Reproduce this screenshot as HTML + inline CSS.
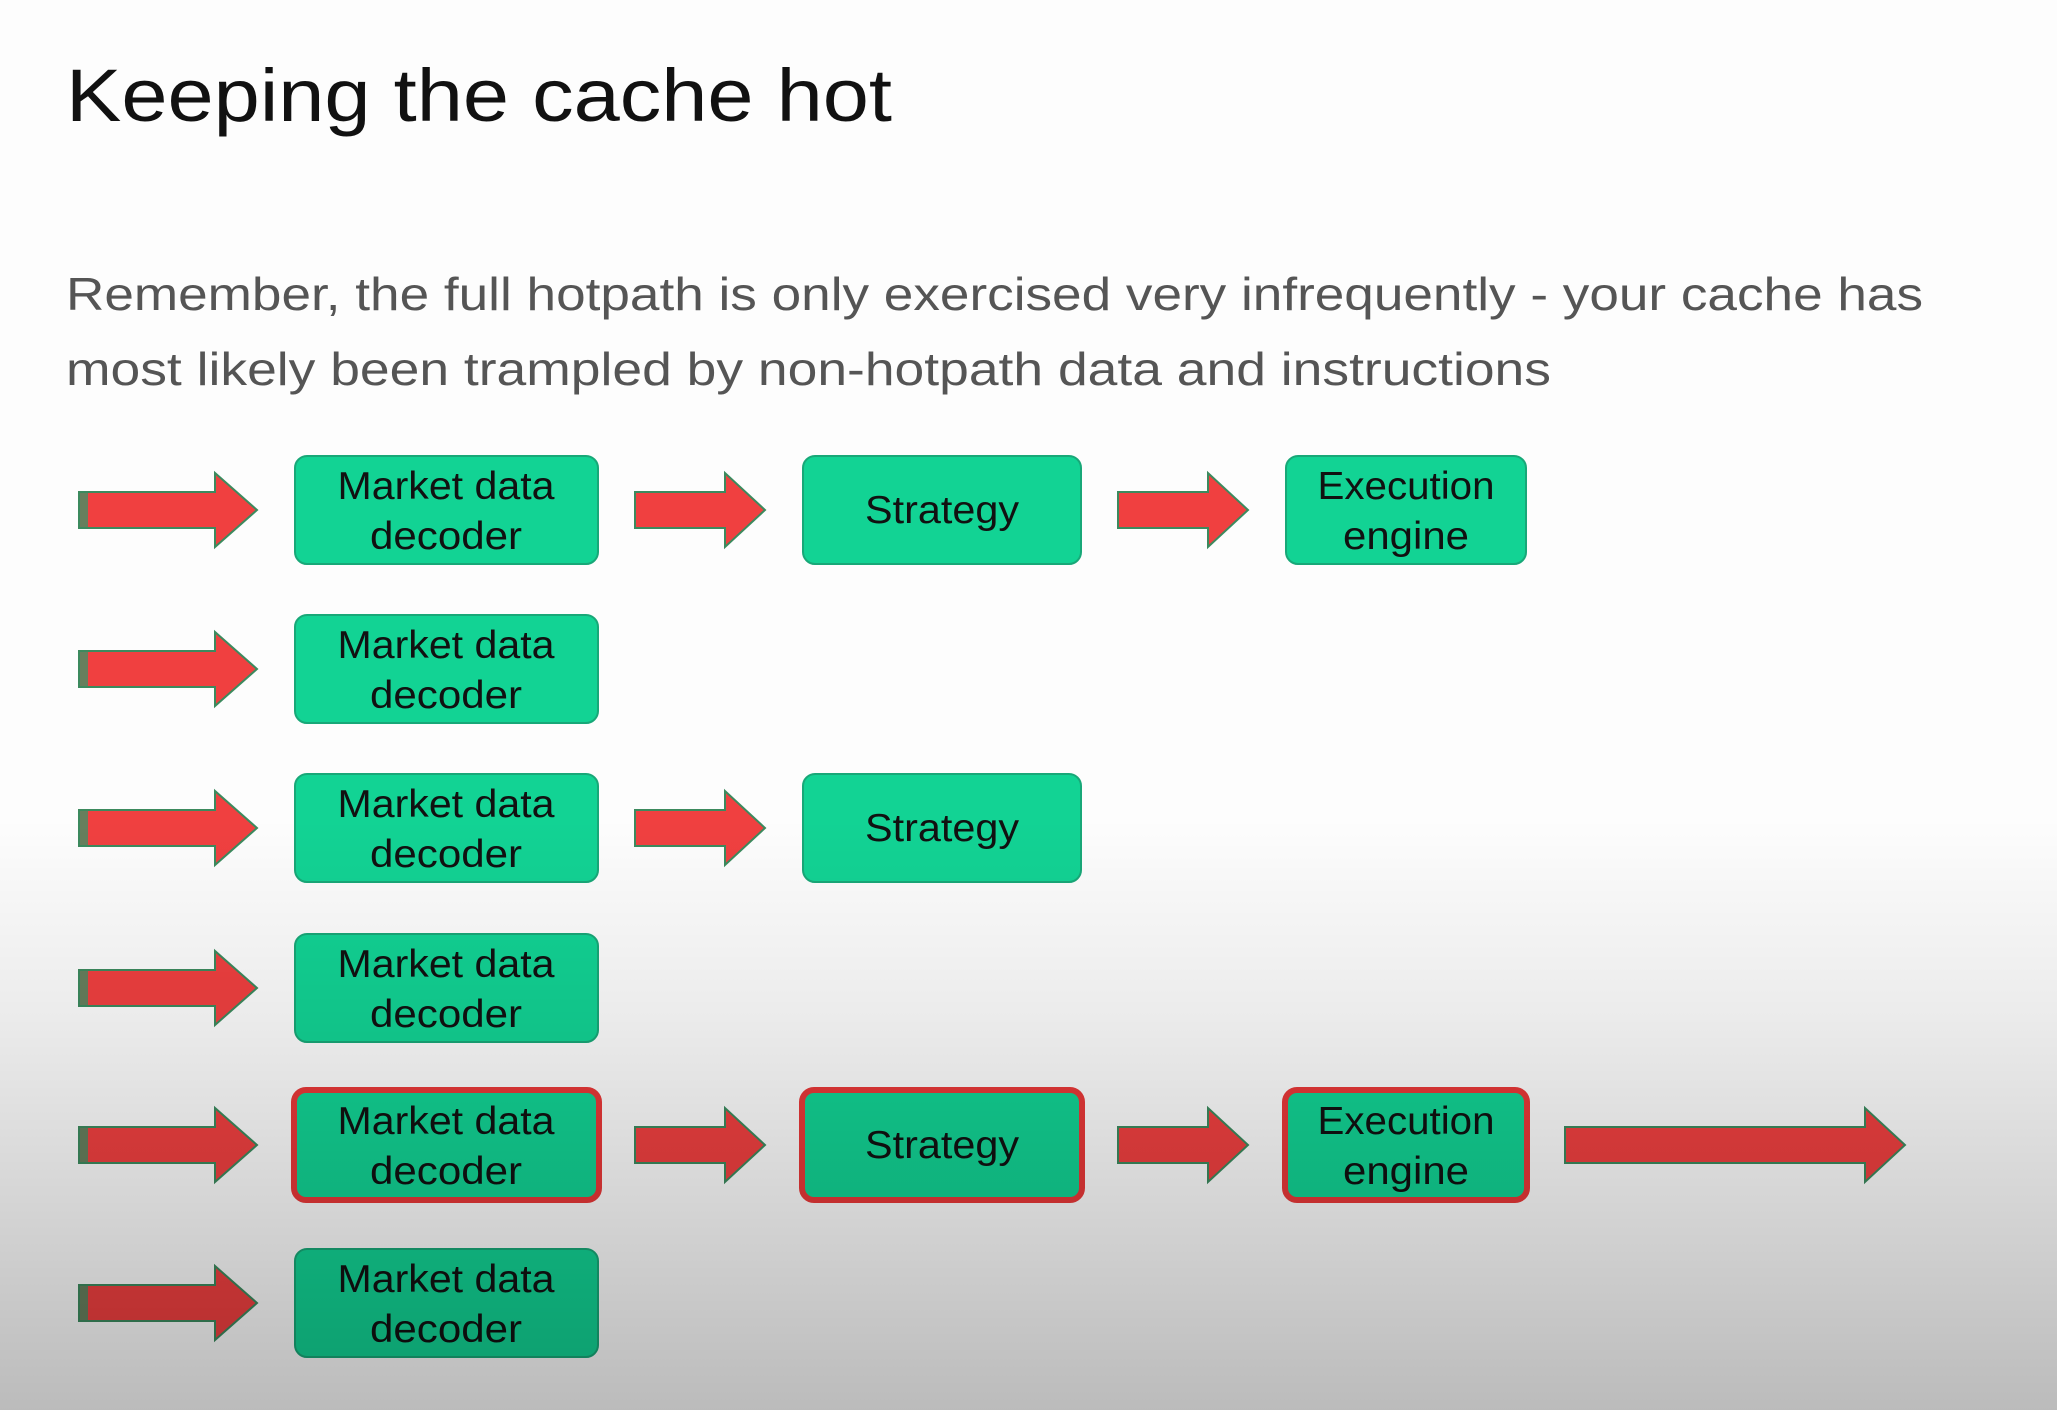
<!DOCTYPE html>
<html><head><meta charset="utf-8"><style>
html,body{margin:0;padding:0;width:2057px;height:1410px;overflow:hidden;background:#fdfdfd}
svg{display:block}
text{font-family:"Liberation Sans",sans-serif}
</style></head><body>
<svg width="2057" height="1410" viewBox="0 0 2057 1410" xmlns="http://www.w3.org/2000/svg">
<defs>
<linearGradient id="bg" x1="0" y1="0" x2="0" y2="1">
<stop offset="0" stop-color="#000" stop-opacity="0"/>
<stop offset="0.58" stop-color="#000" stop-opacity="0"/>
<stop offset="0.72" stop-color="#000" stop-opacity="0.07"/>
<stop offset="1" stop-color="#000" stop-opacity="0.26"/>
</linearGradient>
<g id="arrL">
<path d="M0,-18 H136 V-37 L178,0 L136,37 V18 H0 Z" fill="#f04040" stroke="#3c8a5e" stroke-width="2"/>
<rect x="1" y="-17" width="8" height="34" fill="#2c9a6a" opacity="0.7"/>
</g>
<g id="arrM">
<path d="M0,-18 H90 V-37 L130,0 L90,37 V18 H0 Z" fill="#f04040" stroke="#3c8a5e" stroke-width="2"/>
</g>
</defs>
<rect width="2057" height="1410" fill="#fdfdfd"/>
<text x="66" y="121" font-size="74" fill="#111" textLength="826" lengthAdjust="spacingAndGlyphs">Keeping the cache hot</text>
<text x="66" y="310" font-size="46" fill="#555" textLength="1857" lengthAdjust="spacingAndGlyphs">Remember, the full hotpath is only exercised very infrequently - your cache has</text>
<text x="66" y="385" font-size="46" fill="#555" textLength="1485" lengthAdjust="spacingAndGlyphs">most likely been trampled by non-hotpath data and instructions</text>

<g font-size="39" fill="#111" text-anchor="middle">
<g transform="translate(0,510)">
<use href="#arrL" x="79"/>
<rect x="295" y="-54" width="303" height="108" rx="12" fill="#12d394" stroke="#18a878" stroke-width="2"/>
<text x="446" y="-11" textLength="217" lengthAdjust="spacingAndGlyphs">Market data</text><text x="446" y="39" textLength="152" lengthAdjust="spacingAndGlyphs">decoder</text>
<use href="#arrM" x="635"/>
<rect x="803" y="-54" width="278" height="108" rx="12" fill="#12d394" stroke="#18a878" stroke-width="2"/>
<text x="942" y="13" textLength="154" lengthAdjust="spacingAndGlyphs">Strategy</text>
<use href="#arrM" x="1118"/>
<rect x="1286" y="-54" width="240" height="108" rx="12" fill="#12d394" stroke="#18a878" stroke-width="2"/>
<text x="1406" y="-11" textLength="177" lengthAdjust="spacingAndGlyphs">Execution</text><text x="1406" y="39" textLength="126" lengthAdjust="spacingAndGlyphs">engine</text>
</g>
<g transform="translate(0,669)">
<use href="#arrL" x="79"/>
<rect x="295" y="-54" width="303" height="108" rx="12" fill="#12d394" stroke="#18a878" stroke-width="2"/>
<text x="446" y="-11" textLength="217" lengthAdjust="spacingAndGlyphs">Market data</text><text x="446" y="39" textLength="152" lengthAdjust="spacingAndGlyphs">decoder</text>
</g>
<g transform="translate(0,828)">
<use href="#arrL" x="79"/>
<rect x="295" y="-54" width="303" height="108" rx="12" fill="#12d394" stroke="#18a878" stroke-width="2"/>
<text x="446" y="-11" textLength="217" lengthAdjust="spacingAndGlyphs">Market data</text><text x="446" y="39" textLength="152" lengthAdjust="spacingAndGlyphs">decoder</text>
<use href="#arrM" x="635"/>
<rect x="803" y="-54" width="278" height="108" rx="12" fill="#12d394" stroke="#18a878" stroke-width="2"/>
<text x="942" y="13" textLength="154" lengthAdjust="spacingAndGlyphs">Strategy</text>
</g>
<g transform="translate(0,988)">
<use href="#arrL" x="79"/>
<rect x="295" y="-54" width="303" height="108" rx="12" fill="#12d394" stroke="#18a878" stroke-width="2"/>
<text x="446" y="-11" textLength="217" lengthAdjust="spacingAndGlyphs">Market data</text><text x="446" y="39" textLength="152" lengthAdjust="spacingAndGlyphs">decoder</text>
</g>
<g transform="translate(0,1145)">
<use href="#arrL" x="79"/>
<rect x="294" y="-55" width="305" height="110" rx="12" fill="#12d394" stroke="#e83838" stroke-width="6"/>
<text x="446" y="-11" textLength="217" lengthAdjust="spacingAndGlyphs">Market data</text><text x="446" y="39" textLength="152" lengthAdjust="spacingAndGlyphs">decoder</text>
<use href="#arrM" x="635"/>
<rect x="802" y="-55" width="280" height="110" rx="12" fill="#12d394" stroke="#e83838" stroke-width="6"/>
<text x="942" y="13" textLength="154" lengthAdjust="spacingAndGlyphs">Strategy</text>
<use href="#arrM" x="1118"/>
<rect x="1285" y="-55" width="242" height="110" rx="12" fill="#12d394" stroke="#e83838" stroke-width="6"/>
<text x="1406" y="-11" textLength="177" lengthAdjust="spacingAndGlyphs">Execution</text><text x="1406" y="39" textLength="126" lengthAdjust="spacingAndGlyphs">engine</text>
<path d="M1565,-18 H1865 V-37 L1905,0 L1865,37 V18 H1565 Z" fill="#f04040" stroke="#3c8a5e" stroke-width="2"/>
</g>
<g transform="translate(0,1303)">
<use href="#arrL" x="79"/>
<rect x="295" y="-54" width="303" height="108" rx="12" fill="#12d394" stroke="#18a878" stroke-width="2"/>
<text x="446" y="-11" textLength="217" lengthAdjust="spacingAndGlyphs">Market data</text><text x="446" y="39" textLength="152" lengthAdjust="spacingAndGlyphs">decoder</text>
</g>
</g>
<rect width="2057" height="1410" fill="url(#bg)"/>
</svg>
</body></html>
